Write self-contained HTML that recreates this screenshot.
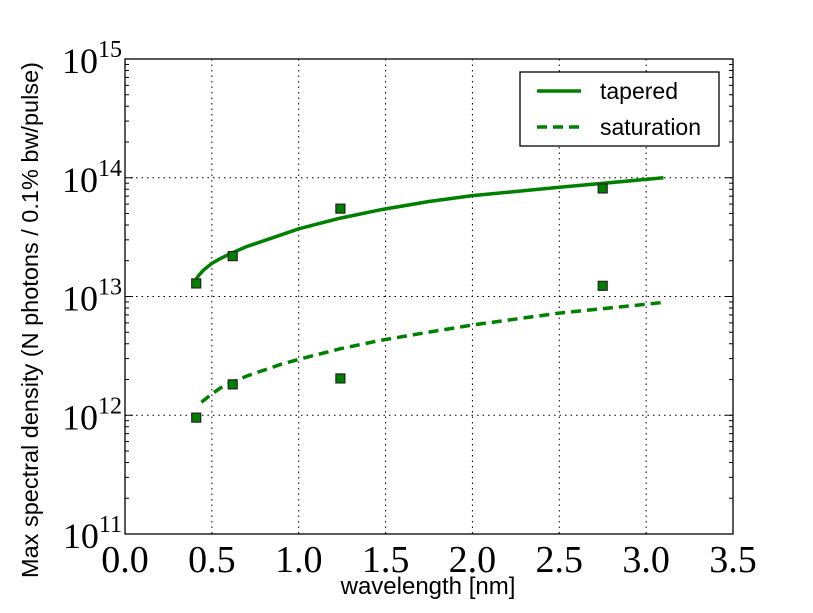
<!DOCTYPE html>
<html><head><meta charset="utf-8"><style>
body{margin:0;background:#fff;}
svg{display:block;}
</style></head><body>
<svg id="chart" width="813" height="613" xmlns="http://www.w3.org/2000/svg">
<rect width="813" height="613" fill="#fff"/>
<g id="grid"></g>
<g id="ticks"></g>
<g id="series"></g>
<rect x="125" y="59" width="608" height="475" fill="none" stroke="#000" stroke-width="1.3"/>
<g id="labels"></g>
<text x="428" y="594" font-family="Liberation Sans, sans-serif" font-size="24" text-anchor="middle">wavelength [nm]</text>
<text transform="translate(38,320) rotate(-90)" font-family="Liberation Sans, sans-serif" font-size="23.5" text-anchor="middle">Max spectral density (N photons / 0.1% bw/pulse)</text>
<g>
<rect x="520" y="72" width="199" height="74" fill="#fff" stroke="#000" stroke-width="1.3"/>
<line x1="537" y1="91" x2="581" y2="91" stroke="#008000" stroke-width="3.5"/>
<text x="600" y="99" font-family="Liberation Sans, sans-serif" font-size="23">tapered</text>
<line x1="537" y1="127" x2="581" y2="127" stroke="#008000" stroke-width="3.5" stroke-dasharray="10,6"/>
<text x="600" y="135" font-family="Liberation Sans, sans-serif" font-size="23">saturation</text>
</g>
</svg>
<script>
const xTicks=[0,0.5,1,1.5,2,2.5,3,3.5];
const xTickLabels=["0.0","0.5","1.0","1.5","2.0","2.5","3.0","3.5"];
const yTickExp=[11,12,13,14,15];
const taperedX=[0.4,0.42,0.45,0.5,0.55,0.62,0.7,0.8,0.9,1.0,1.24,1.47,1.75,2.0,2.5,3.1];
const taperedLog=[13.12,13.17,13.22,13.28,13.32,13.37,13.42,13.47,13.52,13.57,13.66,13.73,13.8,13.85,13.92,14.0];
const saturationX=[0.44,0.5,0.55,0.62,0.7,0.8,0.9,1.0,1.24,1.47,1.75,2.0,2.5,3.1];
const saturationLog=[12.11,12.18,12.23,12.28,12.33,12.38,12.43,12.47,12.56,12.63,12.7,12.76,12.86,12.95];
const pointsX=[0.41,0.62,1.24,2.75];
const taperedPtsLog=[13.11,13.34,13.74,13.91];
const saturationPtsLog=[11.98,12.26,12.31,13.09];
const X0=125,X1=733,Y0=534,Y1=59;
const sx=v=>X0+(v-0)/(3.5)*(X1-X0);
const sy=l=>Y0-(l-11)/4*(Y0-Y1);
const NS="http://www.w3.org/2000/svg";
function mk(t,a,p){const e=document.createElementNS(NS,t);for(const k in a)e.setAttribute(k,a[k]);p.appendChild(e);return e;}
const grid=document.getElementById('grid'),ticks=document.getElementById('ticks'),labels=document.getElementById('labels'),series=document.getElementById('series');
xTicks.forEach((v,i)=>{const x=sx(v);
 if(i>0&&i<xTicks.length-1){const g=mk('line',{x1:x,x2:x,y1:Y1,y2:Y0,stroke:'#000','stroke-width':1,'stroke-dasharray':'1.5,4'},grid);
 
 }
 const t=mk('text',{x:x,y:572,'font-family':'Liberation Serif, serif','font-size':38,'text-anchor':'middle'},labels);
 t.textContent=xTickLabels[i];
 
 
});
yTickExp.forEach((e,i)=>{const y=sy(e);
 if(i>0&&i<yTickExp.length-1){const g=mk('line',{x1:X0,x2:X1,y1:y,y2:y,stroke:'#000','stroke-width':1,'stroke-dasharray':'1.5,4'},grid);
 
 }
 mk('line',{x1:X0,x2:X0+8,y1:y,y2:y,stroke:'#000','stroke-width':1},ticks);
 mk('line',{x1:X1-8,x2:X1,y1:y,y2:y,stroke:'#000','stroke-width':1},ticks);
 if(i<yTickExp.length-1){for(let m=2;m<=9;m++){const yy=sy(e+Math.log10(m));
  mk('line',{x1:X0,x2:X0+4,y1:yy,y2:yy,stroke:'#000','stroke-width':1},ticks);
  mk('line',{x1:X1-4,x2:X1,y1:yy,y2:yy,stroke:'#000','stroke-width':1},ticks);}}
 const t=mk('text',{x:122,y:y+14,'font-family':'Liberation Serif, serif','font-size':36,'text-anchor':'end'},labels);
 t.innerHTML='10<tspan dy="-16" font-size="24">'+e+'</tspan>';
 
 
});
function path(xs,ls){return xs.map((v,i)=>(i?'L':'M')+sx(v).toFixed(1)+','+sy(ls[i]).toFixed(1)).join(' ');}
const p1=mk('path',{d:path(taperedX,taperedLog),fill:'none',stroke:'#008000','stroke-width':3.5,'stroke-linejoin':'round'},series);


const p2=mk('path',{d:path(saturationX,saturationLog),fill:'none',stroke:'#008000','stroke-width':3.5,'stroke-dasharray':'10,6'},series);


[taperedPtsLog,saturationPtsLog].forEach((arr,k)=>arr.forEach((l,i)=>{
 const r=mk('rect',{x:sx(pointsX[i])-4.5,y:sy(l)-4.5,width:9,height:9,fill:'#008000',stroke:'#222','stroke-width':1.2},series);
 
 
}));
</script>
</body></html>
